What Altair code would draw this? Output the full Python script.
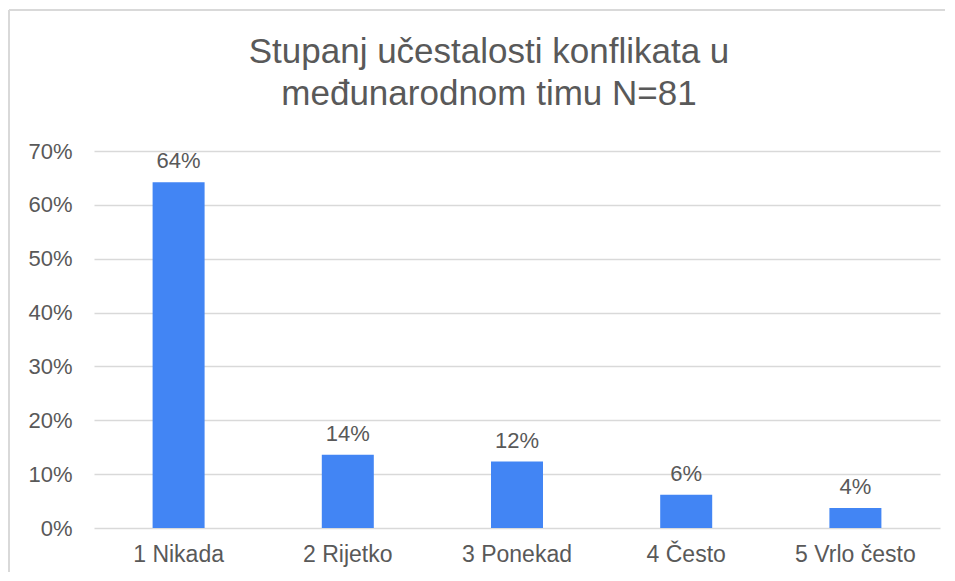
import altair as alt
import pandas as pd

categories = ["1 Nikada", "2 Rijetko", "3 Ponekad", "4 Često", "5 Vrlo često"]
counts = [52, 11, 10, 5, 3]
total = 81
shares = [c / total for c in counts]
y_ticks = [0, 0.1, 0.2, 0.3, 0.4, 0.5, 0.6, 0.7]
title_lines = ["Stupanj učestalosti konflikata u", "međunarodnom timu N=81"]

df = pd.DataFrame({"cat": categories, "share": shares})
title_df = pd.DataFrame({"t": [title_lines]})

TEXT = "#595959"
GRID = "#d9d9d9"
FONT = "Liberation Sans"

x_enc = alt.X("cat:N", sort=categories, title=None,
              scale=alt.Scale(paddingInner=0, paddingOuter=0),
              axis=alt.Axis(labelAngle=0, labelFontSize=23, labelColor=TEXT, labelFont=FONT,
                            ticks=False, domain=False, labelPadding=15, grid=False))
y_enc = alt.Y("share:Q", title=None,
              scale=alt.Scale(domain=[0, 0.7], nice=False),
              axis=alt.Axis(values=y_ticks, format=".0%", labelFontSize=22, labelColor=TEXT,
                            labelFont=FONT, ticks=False, domain=False, labelPadding=22,
                            gridColor=GRID, gridWidth=1.5, minExtent=81, maxExtent=81))

bars = alt.Chart(df).mark_bar(size=52, color="#4285F4").encode(x=x_enc, y=y_enc)
labels = alt.Chart(df).mark_text(fontSize=22, color=TEXT, font=FONT, dy=-14,
                                 baseline="alphabetic").encode(
    x=alt.X("cat:N", sort=categories), y="share:Q", text=alt.Text("share:Q", format=".0%"))

title = alt.Chart(title_df).mark_text(fontSize=35, color=TEXT, font=FONT, align="center",
                                      baseline="alphabetic", lineHeight=42).encode(
    x=alt.value(395), y=alt.value(-88), text="t")

border_top = alt.Chart(df).mark_rule(color=GRID, strokeWidth=2).encode(
    x=alt.value(-85), x2=alt.value(870), y=alt.value(-141))
border_left = alt.Chart(df).mark_rule(color=GRID, strokeWidth=2).encode(
    x=alt.value(-85), y=alt.value(-141), y2=alt.value(440))

chart = alt.layer(border_top, border_left, title, bars, labels).properties(
    width=846, height=377,
    autosize=alt.AutoSizeParams(type="none"),
    padding={"left": 86, "top": 143, "right": 5, "bottom": 44},
).configure_view(stroke=None)

chart.save("out.html", embed_options={"renderer": "svg", "actions": False})
